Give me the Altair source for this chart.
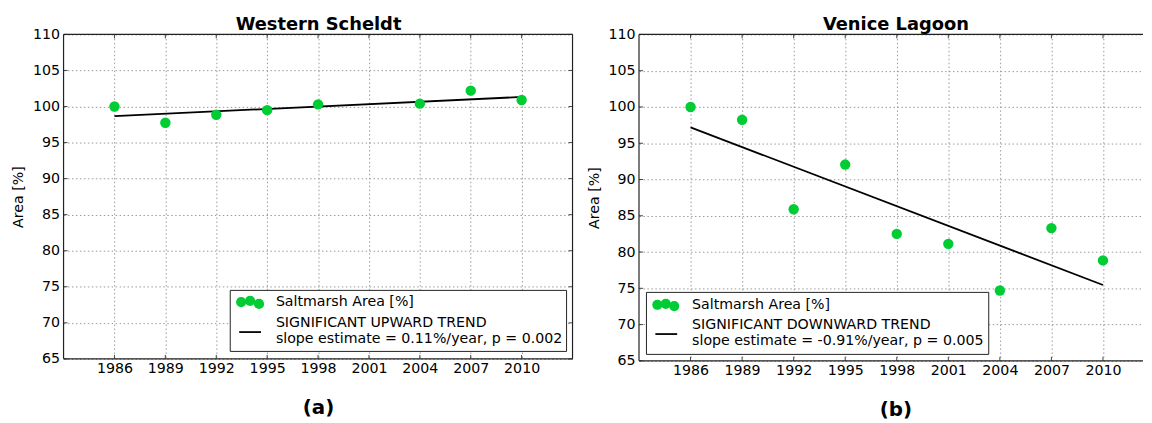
import altair as alt
import pandas as pd

# ---- data ----
ws_years = [1986, 1989, 1992, 1995, 1998, 2004, 2007, 2010]
ws_area = [100.0, 97.75, 98.85, 99.5, 100.3, 100.4, 102.2, 100.9]
ws_trend_years = [1986, 2010]
ws_trend = [98.67, 101.33]

vl_years = [1986, 1989, 1992, 1995, 1998, 2001, 2004, 2007, 2010]
vl_area = [100.0, 98.23, 85.9, 92.06, 82.5, 81.13, 74.7, 83.3, 78.85]
vl_trend_years = [1986, 2010]
vl_trend = [97.19, 75.46]

x_ticks = [1986, 1989, 1992, 1995, 1998, 2001, 2004, 2007, 2010]
y_ticks = [65, 70, 75, 80, 85, 90, 95, 100, 105, 110]

FONT = "DejaVu Sans"
GREEN = "#00cc33"
FS = 14.3
FRAME = "#222222"


def one():
    return alt.Data(values=[{"a": 1}])


def vtext(txt, x, y, size=FS, weight="normal", align="left", baseline="middle"):
    return alt.Chart(one()).mark_text(align=align, baseline=baseline, font=FONT,
                                      fontSize=size, fontWeight=weight,
                                      color="#000").encode(
        x=alt.value(x), y=alt.value(y), text=alt.value(txt))


def panel(years, area, tyears, tvals, title, label, xmax, width, height, center,
          box, dots, line, texts, trend_title, trend_sub, right_side=True):
    xs = alt.Scale(domain=[1983, xmax], nice=False, zero=False)
    ys = alt.Scale(domain=[65, 110], nice=False, zero=False)
    df = pd.DataFrame({"year": years, "area": area})
    tdf = pd.DataFrame({"year": tyears, "area": tvals})

    xaxis = alt.Axis(values=x_ticks, format="d", title=None, ticks=False,
                     labelFont=FONT, labelFontSize=FS, labelColor="#000",
                     labelPadding=3, domain=False,
                     grid=True, gridColor="#999999", gridDash=[1.5, 2.5])
    yaxis = alt.Axis(values=y_ticks, title="Area [%]", ticks=False,
                     labelFont=FONT, labelFontSize=FS, labelColor="#000",
                     labelPadding=4, domain=False,
                     grid=True, gridColor="#999999", gridDash=[1.5, 2.5],
                     titleFont=FONT, titleFontSize=FS, titleFontWeight="normal",
                     titlePadding=7, titleColor="#000")

    def X(field):
        return alt.X(field, scale=xs, axis=xaxis, title=None)

    def Y(field):
        return alt.Y(field, scale=ys, axis=yaxis, title="Area [%]")

    base_pts = alt.Chart(df).mark_circle(size=110, color=GREEN, opacity=1).encode(
        x=X("year:Q"), y=Y("area:Q"))
    trend = alt.Chart(tdf).mark_line(color="black", strokeWidth=1.8).encode(
        x=X("year:Q"), y=Y("area:Q"))
    xt = pd.DataFrame({"year": x_ticks})
    yt = pd.DataFrame({"area": y_ticks})
    tick_layers = [
        alt.Chart(xt).mark_rule(color="#444", strokeWidth=1).encode(
            x=X("year:Q"), y=alt.value(0), y2=alt.value(4)),
        alt.Chart(xt).mark_rule(color="#444", strokeWidth=1).encode(
            x=X("year:Q"), y=alt.value(height), y2=alt.value(height - 4)),
        alt.Chart(yt).mark_rule(color="#444", strokeWidth=1).encode(
            y=Y("area:Q"), x=alt.value(0), x2=alt.value(4)),
    ]
    if right_side:
        tick_layers.append(
            alt.Chart(yt).mark_rule(color="#444", strokeWidth=1).encode(
                y=Y("area:Q"), x=alt.value(width), x2=alt.value(width - 4)))

    frame = [
        alt.Chart(one()).mark_rule(color=FRAME, strokeWidth=1.2).encode(
            x=alt.value(0), x2=alt.value(width), y=alt.value(0)),
        alt.Chart(one()).mark_rule(color=FRAME, strokeWidth=1.2).encode(
            x=alt.value(0), x2=alt.value(width), y=alt.value(height)),
        alt.Chart(one()).mark_rule(color=FRAME, strokeWidth=1.2).encode(
            x=alt.value(0), y=alt.value(0), y2=alt.value(height)),
    ]
    if right_side:
        frame.append(alt.Chart(one()).mark_rule(color=FRAME, strokeWidth=1.2).encode(
            x=alt.value(width), y=alt.value(0), y2=alt.value(height)))

    x0, x1, y0, y1 = box
    legend_layers = [
        alt.Chart(one()).mark_rect(fill="white", stroke="#222", strokeWidth=1).encode(
            x=alt.value(x0), x2=alt.value(x1), y=alt.value(y0), y2=alt.value(y1)),
    ]
    for dx, dy in dots:
        legend_layers.append(
            alt.Chart(one()).mark_circle(size=105, color=GREEN, opacity=1).encode(
                x=alt.value(dx), y=alt.value(dy)))
    lx0, lx1, ly = line
    legend_layers.append(
        alt.Chart(one()).mark_rule(color="black", strokeWidth=1.8).encode(
            x=alt.value(lx0), x2=alt.value(lx1), y=alt.value(ly)))
    tx, ty = texts
    for txt, yy in zip(["Saltmarsh Area [%]", trend_title, trend_sub], ty):
        legend_layers.append(vtext(txt, tx, yy))

    titles = [
        vtext(title, center, -4.8, size=18, weight="bold", align="center",
              baseline="alphabetic"),
        vtext(label, center, height + 56, size=20, weight="bold", align="center",
              baseline="alphabetic"),
    ]

    return alt.layer(*([trend, base_pts] + tick_layers + frame + legend_layers + titles)
                     ).properties(width=width, height=height)


left = panel(ws_years, ws_area, ws_trend_years, ws_trend, "Western Scheldt", "(a)",
             2013, 513, 327, 257,
             box=(168, 507, 258, 319.5),
             dots=[(179, 269.8), (188, 268.6), (197, 271.6)],
             line=(177, 199, 300),
             texts=(214, [270, 290.5, 307]),
             trend_title="SIGNIFICANT UPWARD TREND",
             trend_sub="slope estimate = 0.11%/year, p = 0.002")

right = panel(vl_years, vl_area, vl_trend_years, vl_trend, "Venice Lagoon", "(b)",
              2012.33, 508, 329, 259,
              box=(7.5, 352.5, 260, 322.5),
              dots=[(18.5, 272.5), (27, 271.5), (35.5, 273.8)],
              line=(16.5, 38.5, 302),
              texts=(53.5, [272.4, 292.7, 308.6]),
              trend_title="SIGNIFICANT DOWNWARD TREND",
              trend_sub="slope estimate = -0.91%/year, p = 0.005",
              right_side=False)

chart = alt.hconcat(left, right, spacing=67, bounds="flush").properties(
    padding={"left": 3, "top": 6, "right": 0, "bottom": 0},
    background="white",
).configure_view(stroke=None)

chart.save("out.html", embed_options={"renderer": "svg", "actions": False})
